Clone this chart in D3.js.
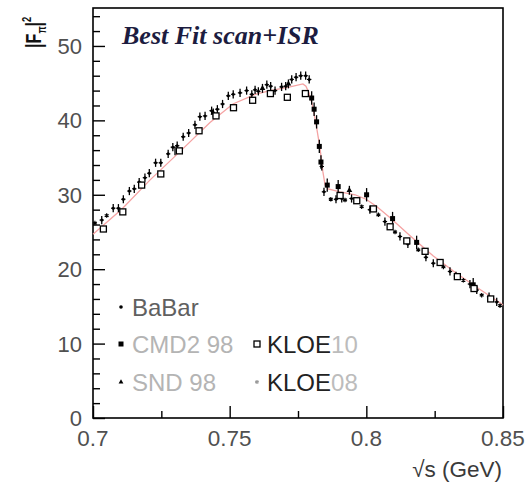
<!DOCTYPE html>
<html>
<head>
<meta charset="utf-8">
<script src="https://cdn.jsdelivr.net/npm/d3@7"></script>
<style>
	body{margin:0;background:#fff;}
	svg{display:block;}
</style>
</head>
<body>
<script>
//pion form factor |F_pi|^2 vs sqrt(s): data sets and the fit curve

//BaBar points
var babarS=[0.7032,0.7074,0.7093,0.7111,0.7133,0.7151,0.7169,0.7190,0.7206,0.7229,0.7248,0.7275,0.7292,0.7308,0.7330,0.7350,0.7373,0.7391,0.7410,0.7434,0.7455,0.7474,0.7495,0.7513,0.7538,0.7562,0.7581,0.7593,0.7605,0.7636,0.7650,0.7666,0.7690,0.7705,0.7727,0.7743,0.7760,0.7778,0.7791,0.7837,0.7845,0.7889,0.7910,0.7946,0.8013,0.8068,0.8123,0.8152,0.8218,0.8245,0.8306,0.8328,0.8379,0.8404,0.8449,0.8477];
var babarF=[26.6,28.2,28.2,29.4,30.5,30.8,31.7,32.3,32.9,34.3,34.3,35.5,36.4,36.6,37.8,38.3,39.4,40.5,40.6,41.3,41.5,42.2,43.3,43.5,43.7,44.0,43.5,44.1,43.9,44.8,44.6,44.0,44.5,44.6,45.5,45.8,46.0,46.0,45.5,33.8,30.4,29.4,29.5,29.5,28.0,26.4,24.4,23.4,21.6,20.8,19.7,19.1,18.0,17.2,16.3,15.6];

//CMD2 98 points
var cmd2S=[0.7800,0.7809,0.7818,0.7828,0.7834,0.7857,0.7897,0.8001,0.8096,0.8184,0.8391];
var cmd2F=[43.0,41.5,39.8,36.5,34.4,31.3,31.1,30.0,26.8,23.6,17.9];

//SND 98 points
var sndS=[0.7300,0.7440,0.7620,0.7715,0.7938];
var sndF=[35.9,41.0,44.3,44.9,30.6];

//KLOE10 points
var kloe10S=[0.7038,0.7109,0.7178,0.7248,0.7316,0.7388,0.7450,0.7514,0.7584,0.7649,0.7711,0.7777,0.7904,0.7965,0.8026,0.8087,0.8148,0.8215,0.8270,0.8333,0.8394,0.8455];
var kloe10F=[25.4,27.7,31.3,32.8,35.9,38.6,40.6,41.7,42.7,43.6,43.1,43.6,29.9,29.2,28.1,25.7,23.8,22.4,20.9,19.0,17.4,16.0];

//KLOE08 points
var kloe08S=[0.7007,0.7050,0.7870,0.7922,0.7983,0.8044,0.8105,0.8190,0.8282,0.8355,0.8422,0.8489];
var kloe08F=[26.2,27.2,29.4,29.3,28.4,27.3,25.0,22.6,20.3,18.5,16.5,15.1];

//best fit curve
var fitS=[0.700,0.7106,0.7209,0.7318,0.7428,0.7512,0.7593,0.7648,0.7721,0.7768,0.7779,0.7790,0.7801,0.7816,0.7830,0.7841,0.7849,0.7860,0.7904,0.7959,0.7999,0.8039,0.8087,0.8160,0.8244,0.8317,0.8390,0.8489,0.850];
var fitF=[24.7,28.1,32.0,35.8,39.7,42.2,43.5,44.0,44.5,44.9,44.6,43.7,42.3,39.5,36.4,33.1,31.3,30.8,30.4,30.0,29.4,28.4,26.9,24.5,21.8,19.8,17.9,15.5,15.2];

//ticks
var xTicks=[0.7,0.75,0.8,0.85];
var xTickLabels=["0.7","0.75","0.8","0.85"];
var yTicks=[0,10,20,30,40,50];

//legend entries
var legendNames=["BaBar","CMD2 98","SND 98","KLOE10","KLOE08"];

window.onload=drawChart();

function drawChart(){
	var width=527,
		height=490;

	var svg=d3.select("body")
		.append("svg")
		.attr("width",width)
		.attr("height",height);

	//plot frame
	var left=93,right=503,top=8,bottom=418;

	var x=d3.scaleLinear()
		.domain([0.7,0.85])
		.range([left,right]);

	var y=d3.scaleLinear()
		.domain([0,55.1])
		.range([bottom,top]);

	//frame
	svg.append("rect")
		.attr("x",left)
		.attr("y",top)
		.attr("width",right-left)
		.attr("height",bottom-top)
		.attr("fill","none")
		.attr("stroke","#000")
		.attr("stroke-width",1.6);

	//inner ticks on the left axis
	var yAxis=d3.axisRight(y)
		.tickValues(d3.range(0,55,2))
		.tickSize(7)
		.tickFormat("");
	var gy=svg.append("g")
		.attr("transform","translate("+left+",0)")
		.call(yAxis);
	gy.select(".domain").remove();
	gy.selectAll(".tick line")
		.attr("stroke","#000")
		.attr("stroke-width",1.4)
		.attr("x2",function(d){return d%10===0?12:7;});

	//inner ticks on the bottom axis
	var xAxis=d3.axisTop(x)
		.tickValues([0.7,0.725,0.75,0.775,0.8,0.825,0.85])
		.tickSize(7)
		.tickFormat("");
	var gx=svg.append("g")
		.attr("transform","translate(0,"+bottom+")")
		.call(xAxis);
	gx.select(".domain").remove();
	gx.selectAll(".tick line")
		.attr("stroke","#000")
		.attr("stroke-width",1.4)
		.attr("y2",function(d){return Math.round(d*1000)%50===0?-12:-7;});

	//tick labels
	svg.selectAll(".ylab")
		.data(yTicks)
		.enter()
		.append("text")
		.attr("class","ylab")
		.attr("x",82)
		.attr("y",function(d){return y(d)+8;})
		.attr("text-anchor","end")
		.attr("font-family","Liberation Sans, Arial, sans-serif")
		.attr("font-size",22)
		.attr("fill","#505050")
		.text(function(d){return d;});

	svg.selectAll(".xlab")
		.data(xTicks)
		.enter()
		.append("text")
		.attr("class","xlab")
		.attr("x",function(d){return x(d);})
		.attr("y",446)
		.attr("text-anchor","middle")
		.attr("font-family","Liberation Sans, Arial, sans-serif")
		.attr("font-size",22.5)
		.attr("fill","#505050")
		.text(function(d,i){return xTickLabels[i];});

	//axis titles
	svg.append("text")
		.attr("x",502)
		.attr("y",477)
		.attr("text-anchor","end")
		.attr("font-family","Liberation Sans, Arial, sans-serif")
		.attr("font-size",22.5)
		.attr("fill","#3a3a3a")
		.text("\u221As (GeV)");

	var ylabel=svg.append("text")
		.attr("transform","translate(41,48) rotate(-90) scale(0.85,1.2)")
		.attr("font-family","Liberation Sans, Arial, sans-serif")
		.attr("font-weight","bold")
		.attr("font-size",19)
		.attr("fill","#111");
	ylabel.append("tspan").text("|F");
	ylabel.append("tspan").attr("dy",4).attr("font-size",11).text("\u03C0");
	ylabel.append("tspan").attr("dy",-4).text("|");
	ylabel.append("tspan").attr("dy",-8).attr("font-size",11).text("2");

	//title
	svg.append("text")
		.attr("x",122)
		.attr("y",44)
		.attr("font-family","Liberation Serif, Times New Roman, serif")
		.attr("font-style","italic")
		.attr("font-weight","bold")
		.attr("font-size",26)
		.attr("fill","#1c1c40")
		.text("Best Fit scan+ISR");

	//fit curve
	var line=d3.line()
		.x(function(d){return x(d[0]);})
		.y(function(d){return y(d[1]);});

	svg.append("path")
		.datum(d3.zip(fitS,fitF))
		.attr("d",line)
		.attr("fill","none")
		.attr("stroke","#f5a3a3")
		.attr("stroke-width",1.3);

	//error bars helper
	function errBars(cls,data,ey,ex){
		var g=svg.append("g").attr("class",cls);
		g.selectAll("line.v")
			.data(data)
			.enter()
			.append("line")
			.attr("class","v")
			.attr("x1",function(d){return x(d[0]);})
			.attr("x2",function(d){return x(d[0]);})
			.attr("y1",function(d){return y(d[1]-ey);})
			.attr("y2",function(d){return y(d[1]+ey);})
			.attr("stroke","#000")
			.attr("stroke-width",1.3);
		g.selectAll("line.h")
			.data(data)
			.enter()
			.append("line")
			.attr("class","h")
			.attr("x1",function(d){return x(d[0])-ex;})
			.attr("x2",function(d){return x(d[0])+ex;})
			.attr("y1",function(d){return y(d[1]);})
			.attr("y2",function(d){return y(d[1]);})
			.attr("stroke","#000")
			.attr("stroke-width",1.1);
		return g;
	}

	//KLOE08: small asterisks
	var k08=d3.zip(kloe08S,kloe08F);
	svg.selectAll(".k08")
		.data(k08)
		.enter()
		.append("path")
		.attr("class","k08")
		.attr("transform",function(d){return "translate("+x(d[0])+","+y(d[1])+")";})
		.attr("d",d3.symbol().type(d3.symbolAsterisk).size(14))
		.attr("fill","none")
		.attr("stroke","#000")
		.attr("stroke-width",1.2);

	//BaBar: dots with error bars
	var bb=d3.zip(babarS,babarF);
	errBars("babar",bb,0.55,2.2);
	svg.selectAll(".bb")
		.data(bb)
		.enter()
		.append("circle")
		.attr("class","bb")
		.attr("cx",function(d){return x(d[0]);})
		.attr("cy",function(d){return y(d[1]);})
		.attr("r",1.5)
		.attr("fill","#000");

	//SND 98: small triangles
	var snd=d3.zip(sndS,sndF);
	errBars("snd",snd,0.6,0);
	svg.selectAll(".snd")
		.data(snd)
		.enter()
		.append("path")
		.attr("class","snd")
		.attr("transform",function(d){return "translate("+x(d[0])+","+y(d[1])+")";})
		.attr("d",d3.symbol().type(d3.symbolTriangle).size(14))
		.attr("fill","#000");

	//CMD2 98: filled squares
	var cmd=d3.zip(cmd2S,cmd2F);
	errBars("cmd2",cmd,0.9,0);
	svg.selectAll(".cmd")
		.data(cmd)
		.enter()
		.append("rect")
		.attr("class","cmd")
		.attr("x",function(d){return x(d[0])-2.5;})
		.attr("y",function(d){return y(d[1])-2.5;})
		.attr("width",5)
		.attr("height",5)
		.attr("fill","#000");

	//KLOE10: open squares
	var k10=d3.zip(kloe10S,kloe10F);
	svg.selectAll(".k10")
		.data(k10)
		.enter()
		.append("rect")
		.attr("class","k10")
		.attr("x",function(d){return x(d[0])-3;})
		.attr("y",function(d){return y(d[1])-3;})
		.attr("width",6)
		.attr("height",6)
		.attr("fill","#fff")
		.attr("stroke","#000")
		.attr("stroke-width",1.3);

	//legend
	var lg=svg.append("g")
		.attr("font-family","Liberation Sans, Arial, sans-serif")
		.attr("font-size",24);

	lg.append("circle").attr("cx",121).attr("cy",307).attr("r",1.8).attr("fill","#000");
	lg.append("text").attr("x",132).attr("y",315.5).attr("fill","#606060").text(legendNames[0]);

	lg.append("rect").attr("x",118.5).attr("y",341.5).attr("width",5).attr("height",5).attr("fill","#000");
	lg.append("text").attr("x",132).attr("y",352.5).attr("fill","#b4b4b4").text(legendNames[1]);

	lg.append("path").attr("transform","translate(121,382)")
		.attr("d",d3.symbol().type(d3.symbolTriangle).size(10)).attr("fill","#000");
	lg.append("text").attr("x",132).attr("y",390.5).attr("fill","#b4b4b4").text(legendNames[2]);

	lg.append("rect").attr("x",254).attr("y",341).attr("width",6).attr("height",6)
		.attr("fill","#fff").attr("stroke","#000").attr("stroke-width",1.3);
	var t10=lg.append("text").attr("x",267).attr("y",352.5);
	t10.append("tspan").attr("fill","#222").text(legendNames[3].slice(0,4));
	t10.append("tspan").attr("fill","#bcbcbc").text(legendNames[3].slice(4));

	lg.append("path").attr("transform","translate(257,382)")
		.attr("d",d3.symbol().type(d3.symbolAsterisk).size(12))
		.attr("fill","none").attr("stroke","#999").attr("stroke-width",1.2);
	var t08=lg.append("text").attr("x",267).attr("y",390.5);
	t08.append("tspan").attr("fill","#222").text(legendNames[4].slice(0,4));
	t08.append("tspan").attr("fill","#bcbcbc").text(legendNames[4].slice(4));
};
</script>
</body>
</html>
